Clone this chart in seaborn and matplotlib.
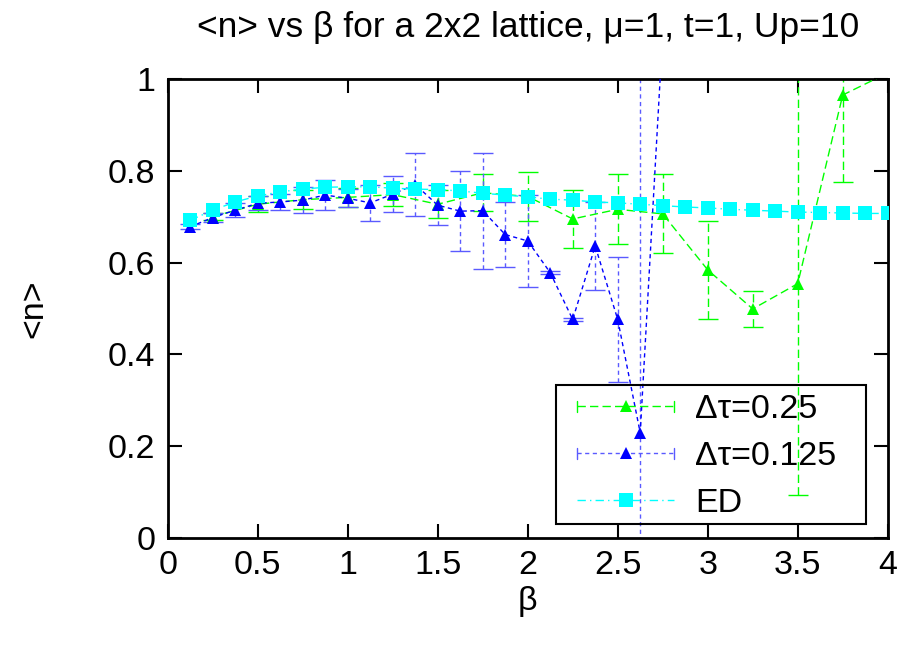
import matplotlib
matplotlib.use("Agg")
import matplotlib.pyplot as plt
import seaborn as sns
from matplotlib.lines import Line2D
from matplotlib.patches import Rectangle
from matplotlib.legend_handler import HandlerBase

# Exact diagonalization
beta_ed = [0.125, 0.25, 0.375, 0.5, 0.625, 0.75, 0.875, 1.0, 1.125, 1.25, 1.375,
           1.5, 1.625, 1.75, 1.875, 2.0, 2.125, 2.25, 2.375, 2.5, 2.625, 2.75,
           2.875, 3.0, 3.125, 3.25, 3.375, 3.5, 3.625, 3.75, 3.875, 4.0]
n_ed = [0.692, 0.714, 0.732, 0.745, 0.754, 0.760, 0.764, 0.765, 0.765, 0.762, 0.760,
        0.759, 0.756, 0.751, 0.747, 0.743, 0.738, 0.736, 0.732, 0.730, 0.727, 0.724,
        0.721, 0.719, 0.716, 0.714, 0.712, 0.710, 0.709, 0.708, 0.707, 0.707]

# QMC, dtau = 0.25
beta_025 = [0.25, 0.5, 0.75, 1.0, 1.25, 1.5, 1.75, 2.0, 2.25, 2.5, 2.75, 3.0,
            3.25, 3.5, 3.75, 4.0]
n_025 = [0.700, 0.727, 0.737, 0.742, 0.748, 0.727, 0.752, 0.744, 0.695, 0.716,
         0.706, 0.584, 0.499, 0.554, 0.965, 1.013]
err_025 = [0.008, 0.017, 0.020, 0.020, 0.025, 0.030, 0.040, 0.054, 0.064, 0.076,
           0.086, 0.107, 0.040, 0.460, 0.190, 0.010]

# QMC, dtau = 0.125
beta_0125 = [0.125, 0.25, 0.375, 0.5, 0.625, 0.75, 0.875, 1.0, 1.125, 1.25, 1.375,
             1.5, 1.625, 1.75, 1.875, 2.0, 2.125, 2.25, 2.375, 2.5, 2.625, 2.75]
n_0125 = [0.678, 0.698, 0.714, 0.729, 0.732, 0.736, 0.747, 0.740, 0.730, 0.749, 0.770,
          0.725, 0.712, 0.713, 0.661, 0.647, 0.578, 0.476, 0.636, 0.476, 0.229, 1.100]
err_0125 = [0.005, 0.010, 0.015, 0.015, 0.018, 0.028, 0.033, 0.020, 0.040, 0.039, 0.068,
            0.044, 0.087, 0.126, 0.070, 0.100, 0.004, 0.004, 0.095, 0.137, 1.000, 0.050]

labels = ["\u0394\u03c4=0.25", "\u0394\u03c4=0.125", "ED"]
x_ticks = [0, 0.5, 1, 1.5, 2, 2.5, 3, 3.5, 4]
x_ticklabels = ["0", "0.5", "1", "1.5", "2", "2.5", "3", "3.5", "4"]
y_ticks = [0, 0.2, 0.4, 0.6, 0.8, 1]
y_ticklabels = ["0", "0.2", "0.4", "0.6", "0.8", "1"]

GREEN = "#00ff00"
BLUE = "#0000ff"
BLUE_BAR = "#5a5aff"
CYAN = "#00ffff"

sns.set_style("ticks")
plt.rcParams["font.family"] = ["Liberation Sans", "DejaVu Sans"]
plt.rcParams.update({"text.color": "black", "axes.labelcolor": "black",
                     "xtick.color": "black", "ytick.color": "black"})
FS = 24.5

fig = plt.figure(figsize=(9.04, 6.47), dpi=100)
ax = fig.add_axes([0.1855, 0.1685, 0.7965, 0.7095])

GREEN_DASH = (6, 3)
BLUE_DASH = (3, 2.5)
ED_DASH = (6, 3, 1, 3)


def draw_series(x, y, err, color, bar_color, dashes, marker, ms):
    eb = ax.errorbar(x, y, yerr=err, fmt="none", ecolor=bar_color, elinewidth=1.0,
                     capsize=7, capthick=1.0, zorder=2)
    for col in eb[2]:
        col.set_linestyle((0, dashes))
    sns.lineplot(x=x, y=y, ax=ax, color=color, marker=marker, markersize=ms,
                 markeredgewidth=0, linewidth=1.0, sort=False, estimator=None,
                 zorder=3)
    ax.lines[-1].set_dashes(dashes)


draw_series(beta_025, n_025, err_025, GREEN, GREEN, GREEN_DASH, "^", 9)
draw_series(beta_0125, n_0125, err_0125, BLUE, BLUE_BAR, BLUE_DASH, "^", 9)
sns.lineplot(x=beta_ed, y=n_ed, ax=ax, color=CYAN, marker="s", markersize=9.5,
             markeredgewidth=0, linewidth=1.0, sort=False, estimator=None, zorder=4)
ax.lines[-1].set_dashes(ED_DASH)

ax.set_xlim(0, 4)
ax.set_ylim(0, 1)
ax.set_xticks(x_ticks)
ax.set_xticklabels(x_ticklabels)
ax.set_yticks(y_ticks)
ax.set_yticklabels(y_ticklabels)
ax.tick_params(direction="in", length=10, width=1.5, top=True, right=True,
               labelsize=FS, pad=9, color="black", labelcolor="black")
for sp in ax.spines.values():
    sp.set_visible(True)
    sp.set_linewidth(2)
    sp.set_color("black")

ax.set_title("<n> vs \u03b2 for a 2x2 lattice, \u03bc=1, t=1, Up=10", fontsize=25.5,
             pad=30, color="black")
ax.set_xlabel("\u03b2", fontsize=FS, labelpad=3, color="black")
ax.set_ylabel("<n>", fontsize=FS, labelpad=42, color="black")


class ErrLineHandler(HandlerBase):
    def __init__(self, color, bar_color, dashes, marker, ms, caps=True):
        super().__init__()
        self.color = color
        self.bar_color = bar_color
        self.dashes = dashes
        self.marker = marker
        self.ms = ms
        self.caps = caps

    def create_artists(self, legend, orig_handle, xdescent, ydescent, width,
                       height, fontsize, trans):
        x0 = -xdescent
        x1 = x0 + width
        y = height / 2 - ydescent
        arts = []
        line = Line2D([x0, x1], [y, y], color=self.bar_color if self.caps else self.color,
                      linewidth=1.0)
        line.set_dashes(self.dashes)
        arts.append(line)
        if self.caps:
            h = 4
            for xc in (x0, x1):
                arts.append(Line2D([xc, xc], [y - h, y + h], color=self.bar_color,
                                   linewidth=1.0))
        mk = Line2D([(x0 + x1) / 2], [y], color=self.color, marker=self.marker,
                    markersize=self.ms, markeredgewidth=0, linestyle="none")
        arts.append(mk)
        for a in arts:
            a.set_transform(trans)
        return arts


# unfilled key box; data lines stay visible through it
box = Rectangle((0.539, 0.0305), 0.431, 0.3025, transform=ax.transAxes,
                facecolor="none", edgecolor="black", linewidth=1.5, zorder=5)
ax.add_patch(box)

h1 = Line2D([], [], color=GREEN)
h2 = Line2D([], [], color=BLUE)
h3 = Line2D([], [], color=CYAN)
leg = ax.legend(
    [h1, h2, h3], labels,
    handler_map={
        h1: ErrLineHandler(GREEN, GREEN, GREEN_DASH, "^", 8),
        h2: ErrLineHandler(BLUE, BLUE_BAR, BLUE_DASH, "^", 8),
        h3: ErrLineHandler(CYAN, CYAN, ED_DASH, "s", 9.5, caps=False),
    },
    loc="upper left", bbox_to_anchor=(0.5685, 0.313), fontsize=FS,
    handlelength=2.85, handletextpad=0.62, labelspacing=0.47, borderpad=0,
    borderaxespad=0, frameon=False, labelcolor="black",
)
leg.set_zorder(6)

fig.savefig("out.png", dpi=100)
